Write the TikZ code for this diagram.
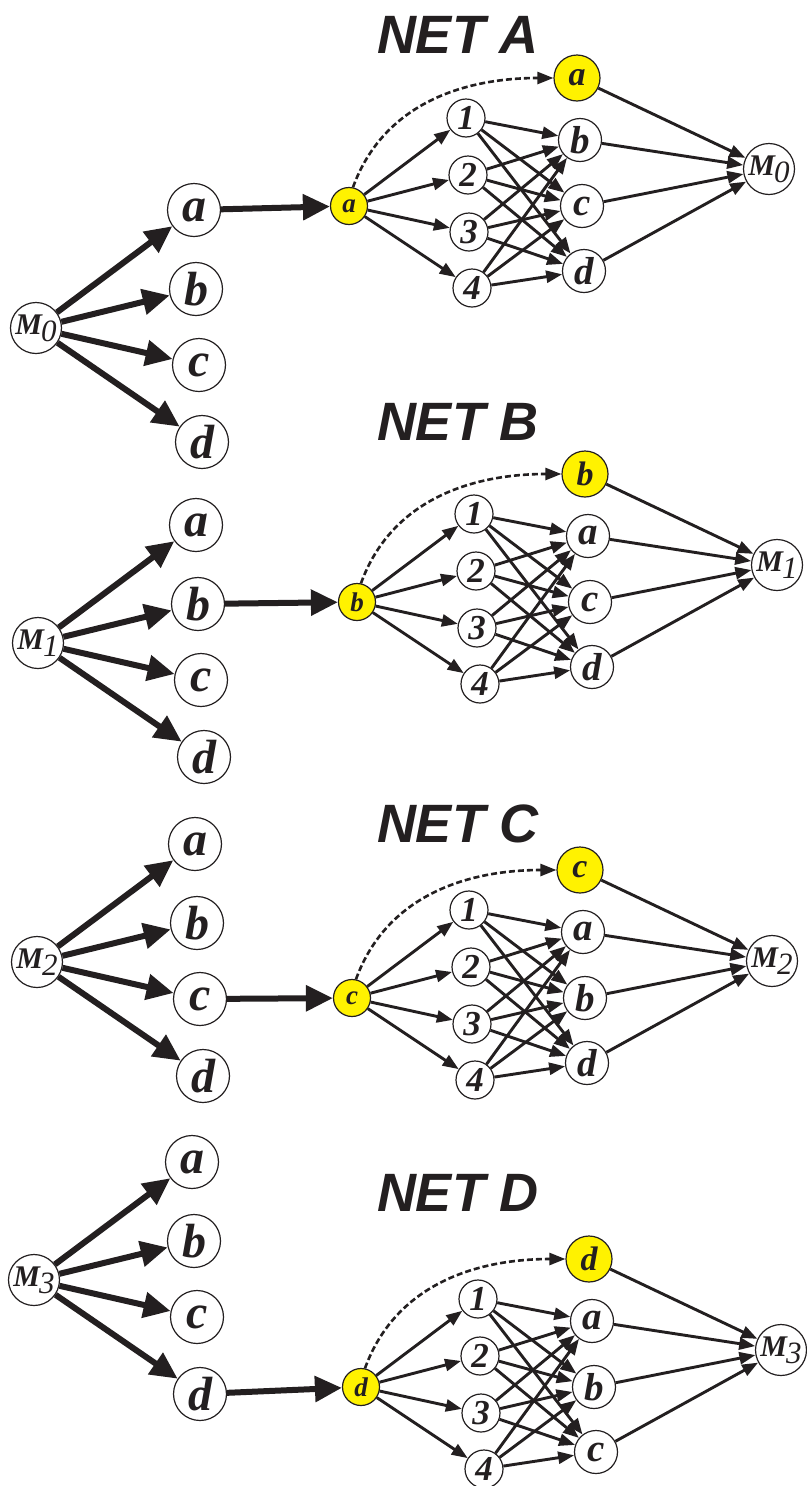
\documentclass[tikz,border=0pt]{standalone}
\usepackage{fontspec}
\setmainfont{Liberation Serif}
\newfontfamily\headfont{Liberation Sans}
\usetikzlibrary{arrows.meta}

\definecolor{ink}{HTML}{231F20}
\definecolor{hilite}{HTML}{FFF200}

% M with a big lowered index
\newcommand{\msub}[1]{M\kern-1pt\raisebox{-7pt}{\fontsize{31}{31}\selectfont\mdseries\itshape #1}}

\begin{document}
\begin{tikzpicture}[x=1pt,y=-1pt,
    bubble/.style={circle,draw=ink,line width=1.2pt,fill=white,inner sep=0pt,text=ink},
    mnode/.style={bubble,minimum size=51pt,font=\fontsize{30}{30}\selectfont\bfseries\itshape},
    letter/.style={bubble,minimum size=53pt,font=\fontsize{48}{48}\selectfont\bfseries\itshape},
    hidden/.style={bubble,minimum size=38pt,font=\fontsize{35}{35}\selectfont\bfseries\itshape},
    outletter/.style={bubble,minimum size=43pt,font=\fontsize{39}{39}\selectfont\bfseries\itshape},
    source/.style={bubble,fill=hilite,minimum size=37pt,font=\fontsize{27}{27}\selectfont\bfseries\itshape},
    target/.style={bubble,fill=hilite,minimum size=46pt,font=\fontsize{34}{34}\selectfont\bfseries\itshape},
    heading/.style={text=ink,inner sep=0pt,font=\fontsize{54}{54}\selectfont\headfont\bfseries\itshape},
    fat/.style={draw=ink,line width=6pt,-{Triangle[length=27pt,width=25pt]}},
    netarrow/.style={draw=ink,line width=2.9pt,-{Triangle[length=16pt,width=12pt]}}]

    % Page
    \fill[white] (0,0) rectangle (806,1486);
    \useasboundingbox (0,0) rectangle (806,1486);

    \foreach \n/\mx/\my/\tx/\ty/\pick/\ra/\rb/\rc/\net/\hy in {
        0/36/328/577/78/a/b/c/d/A/35,
        1/38/643/585/474/b/a/c/d/B/422,
        2/37/962/580/870/c/a/b/d/C/824,
        3/34/1280/589/1259/d/a/b/c/D/1193}{

        % Title
        \node[heading] (t\n) at (458,\hy) {NET \net};

        % Fan out of M to the four letters
        \node[mnode] (m\n) at (\mx,\my) {\msub{\n}};
        \foreach \l/\dx/\dy in {a/158/-118,b/160/-39,c/163/37,d/166/114}{
            \node[letter] (l\n\l) at (\mx+\dx,\my+\dy) {\l};
            \draw[fat] (m\n) -- (l\n\l);
        }

        % The net itself
        \node[source] (s\n) at (\tx-228,\ty+128) {\pick};
        \node[target] (g\n) at (\tx,\ty) {\pick};
        \foreach \h/\dx/\dy in {1/-111/40,2/-109/97,3/-108/154,4/-105/210}
            \node[hidden] (h\n\h) at (\tx+\dx,\ty+\dy) {\h};
        \node[outletter] (o\n1) at (\tx+3,\ty+62) {\ra};
        \node[outletter] (o\n2) at (\tx+5,\ty+128) {\rb};
        \node[outletter] (o\n3) at (\tx+7,\ty+193) {\rc};
        \node[mnode] (r\n) at (\tx+192,\ty+91) {\msub{\n}};

        \draw[fat] (l\n\pick) -- (s\n);
        \foreach \h in {1,...,4}{
            \draw[netarrow] (s\n) -- (h\n\h);
            \foreach \o in {1,2,3}
                \draw[netarrow] (h\n\h) -- (o\n\o);
        }
        \foreach \o in {1,2,3}
            \draw[netarrow] (o\n\o) -- (r\n);
        \draw[netarrow] (g\n) -- (r\n);
        \draw[netarrow,line width=2.6pt,dash pattern=on 6pt off 3pt] (s\n.78) to[out=70,in=180] (g\n);
    }
\end{tikzpicture}
\end{document}
